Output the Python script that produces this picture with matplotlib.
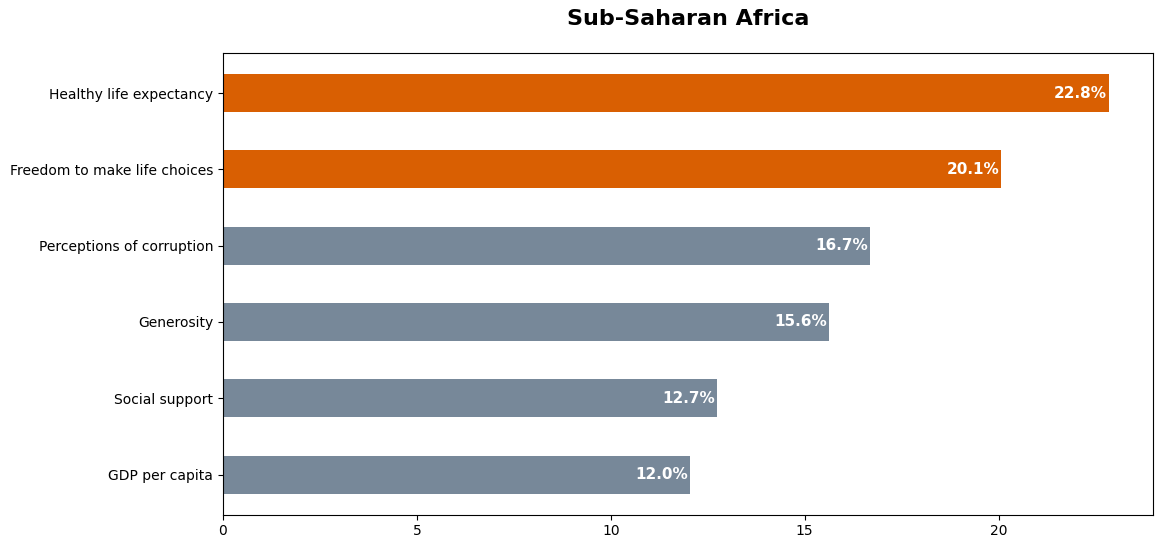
import matplotlib.pyplot as plt

factors = ["GDP per capita", "Social support", "Generosity",
           "Perceptions of corruption", "Freedom to make life choices",
           "Healthy life expectancy"]
shares = [12.04, 12.74, 15.62, 16.68, 20.07, 22.84]
highlight = [False, False, False, False, True, True]

colors = ["#d95f02" if h else "#778899" for h in highlight]

fig, ax = plt.subplots(figsize=(11.63, 5.49), dpi=100)
fig.subplots_adjust(left=0.1917, right=0.9914, top=0.9035, bottom=0.0625)

bars = ax.barh(factors, shares, height=0.5, color=colors)
for bar, v in zip(bars, shares):
    ax.text(bar.get_width() - 0.05, bar.get_y() + bar.get_height() / 2,
            f"{v:.1f}%", ha="right", va="center", color="white",
            fontsize=11, fontweight="bold")

ax.set_title("Sub-Saharan Africa", fontsize=16, fontweight="bold", pad=20)

plt.savefig("out.png", dpi=100)
plt.close()
